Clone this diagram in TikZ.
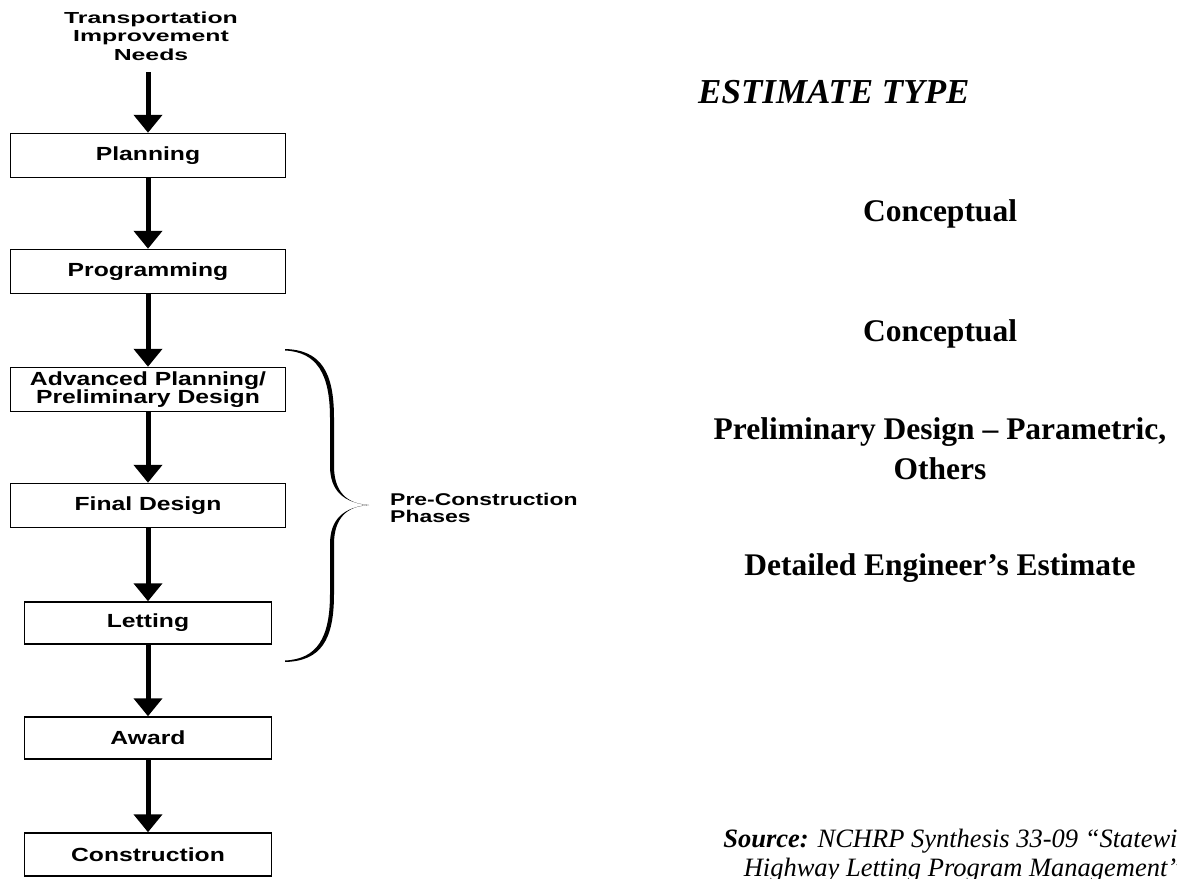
\documentclass[tikz,border=0pt]{standalone}
\usepackage{fontspec}
\setmainfont{Liberation Serif}
\newfontfamily\topfont[FakeStretch=1.55]{Liberation Sans}
\newfontfamily\boxfont[FakeStretch=1.3]{Liberation Sans}
\newfontfamily\phasefont[FakeStretch=1.35]{Liberation Sans}
\usetikzlibrary{arrows.meta}
\begin{document}
\begin{tikzpicture}[x=1pt,y=-1pt,
  stage/.style={draw, line width=1.5pt, inner sep=0pt, minimum height=44pt,
    font=\boxfont\bfseries\fontsize{19}{18}\selectfont, align=center},
  wide/.style={stage, minimum width=275pt},
  narrow/.style={stage, minimum width=247pt},
  flow/.style={line width=5pt, -{Triangle[width=28pt,length=18pt]}},
  estim/.style={font=\bfseries\fontsize{31.5}{40}\selectfont, align=center, anchor=base, inner sep=0pt}
]
\useasboundingbox (0,0) rectangle (1177,878);
\clip (0,0) rectangle (1177,878);

% left flow
\node[font=\topfont\bfseries\fontsize{16}{18.5}\selectfont, align=center, anchor=base, inner sep=0pt]
  (needs) at (151,60) {Transportation\\Improvement\\Needs};
\coordinate (start) at (148,72);

\node[wide]   (plan)  at (148,155.5) {Planning};
\node[wide]   (prog)  at (148,271.5) {Programming};
\node[wide]   (adv)   at (148,389.5) {Advanced Planning/\\Preliminary Design};
\node[wide]   (final) at (148,505.5) {Final Design};
\node[narrow, minimum height=42pt] (let)   at (148,623) {Letting};
\node[narrow, minimum height=42pt] (award) at (148,738) {Award};
\node[narrow, minimum height=43pt] (cons)  at (148,854.5) {Construction};

\draw[flow] (start) -- (plan.north);
\draw[flow] (plan.south) -- (prog.north);
\draw[flow] (prog.south) -- (adv.north);
\draw[flow] (adv.south) -- (final.north);
\draw[flow] (final.south) -- (let.north);
\draw[flow] (let.south) -- (award.north);
\draw[flow] (award.south) -- (cons.north);

% brace
\fill (285,349) .. controls (321,350) and (334,372) .. (334,418) -- (334,466)
  .. controls (334,492) and (347,504) .. (369,505)
  .. controls (347,506) and (334,518) .. (334,544) -- (334,594)
  .. controls (334,640) and (321,661) .. (285,662)
  -- (285,660.5) .. controls (317,659) and (330,638) .. (330,594) -- (330,544)
  .. controls (330,519) and (344,507) .. (369,505)
  .. controls (344,503) and (330,491) .. (330,466) -- (330,418)
  .. controls (330,374) and (317,352) .. (285,350.5) -- cycle;

\node[font=\phasefont\bfseries\fontsize{17}{17}\selectfont, align=left, anchor=base west, inner sep=0pt]
  (pre) at (390,522) {Pre-Construction\\Phases};

% right column
\node[font=\bfseries\itshape\fontsize{35}{35}\selectfont, anchor=base west, inner sep=0pt]
  (etype) at (698,103) {ESTIMATE TYPE};
\node[estim] (c1) at (940,221) {Conceptual};
\node[estim] (c2) at (940,341) {Conceptual};
\node[estim] (pd) at (940,479) {Preliminary Design – Parametric,\\Others};
\node[estim] (de) at (940,575) {Detailed Engineer’s Estimate};

\node[font=\itshape\fontsize{26.5}{29}\selectfont, align=center, anchor=base, inner sep=0pt]
  (src) at (963,876) {\textbf{Source:} NCHRP Synthesis 33-09 “Statewide\\Highway Letting Program Management”};
\end{tikzpicture}
\end{document}
